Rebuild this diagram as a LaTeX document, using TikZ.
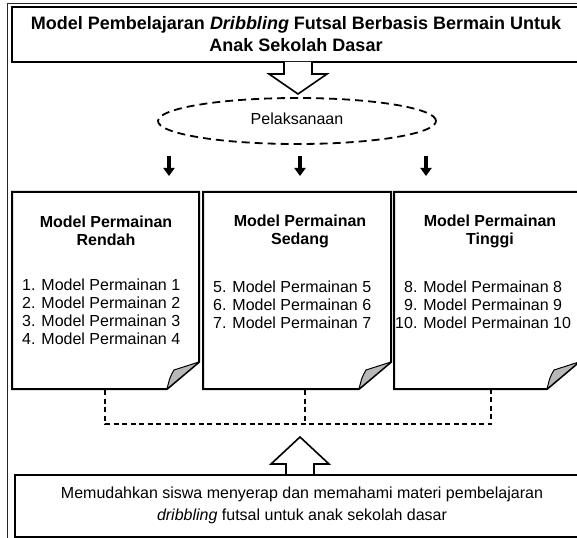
\documentclass[tikz,border=0pt]{standalone}
\usepackage{fontspec}
\setmainfont{Liberation Sans}
\usetikzlibrary{arrows.meta,shapes.geometric}
\newcommand\foldbox[4]{%
  \draw[boxline] (#1,#2) -- (#3,#2) -- (#3,{#4-27}) -- ({#3-32},#4) -- (#1,#4) -- cycle;
  \draw[flap] ({#3-32},#4) .. controls ({#3-29},{#4-12}) .. ({#3-25},{#4-19}) -- (#3,{#4-27}) -- cycle;
}
\begin{document}
\begin{tikzpicture}[x=1pt,y=-1pt,
  boxline/.style={line width=2pt, line join=miter, draw=black},
  flap/.style={fill=black!28, draw=black, line width=1pt, line join=round},
  hollow/.style={draw=black, line width=1.6pt, fill=white, line join=miter},
  smallarrow/.style={line width=4.5pt, black, -{Triangle[width=11pt,length=8pt]}},
  link/.style={line width=1.5pt, black, dash pattern=on 5pt off 3.5pt},
  txt/.style={font=\fontsize{16}{18}\selectfont, inner sep=0pt, text=black},
  bigtxt/.style={font=\fontsize{18}{22}\selectfont\bfseries, inner sep=0pt, text=black},
  headtxt/.style={font=\fontsize{16}{18}\selectfont\bfseries, inner sep=0pt, text=black, align=center}
]
\useasboundingbox (0,0) rectangle (577,537);
\clip (0,0) rectangle (577,537);
\fill[white] (0,0) rectangle (577,537);
% outer frame
\draw[line width=1pt, black!85] (7,4) rectangle (600,560);
% title box
\draw[boxline] (12,7) rectangle (600,62);
\node[bigtxt, align=center] (title) at (296,34) {Model Pembelajaran \textit{Dribbling} Futsal Berbasis Bermain Untuk\\Anak Sekolah Dasar};
% hollow arrow down
\draw[hollow] (284,62) -- (284,74) -- (269,74) -- (298,94) -- (327,74) -- (312,74) -- (312,62);
% ellipse
\node[ellipse, draw=black, line width=1.8pt, dash pattern=on 8pt off 5pt, minimum width=278pt, minimum height=46pt, inner sep=0pt] (pel) at (297,121) {};
\node[txt] (peltxt) at (297,119) {Pelaksanaan};
% small arrows
\coordinate (a1s) at (169,156); \coordinate (a1e) at (169,176);
\coordinate (a2s) at (300,156); \coordinate (a2e) at (300,176);
\coordinate (a3s) at (426,156); \coordinate (a3e) at (426,176);
\draw[smallarrow] (a1s) -- (a1e);
\draw[smallarrow] (a2s) -- (a2e);
\draw[smallarrow] (a3s) -- (a3e);
% three boxes
\foldbox{12}{192}{199}{389}
\foldbox{203}{192}{391}{389}
\foldbox{394}{192}{579}{389}
\node[headtxt] (h1) at (106,231) {Model Permainan\\Rendah};
\node[headtxt] (h2) at (300,231) {Model Permainan\\Sedang};
\node[headtxt] (h3) at (490,231) {Model Permainan\\Tinggi};
\node[txt, align=left, anchor=north west] (l1) at (22,279) {1. Model Permainan 1\\2. Model Permainan 2\\3. Model Permainan 3\\4. Model Permainan 4};
\node[txt, align=left, anchor=north west] (l2) at (213,281) {5. Model Permainan 5\\6. Model Permainan 6\\7. Model Permainan 7};
\node[txt, align=left, anchor=north west] (l3) at (395,281) {\hphantom{1}8. Model Permainan 8\\\hphantom{1}9. Model Permainan 9\\10. Model Permainan 10};
% dashed connectors
\coordinate (d1) at (105,390); \coordinate (d2) at (305,390); \coordinate (d3) at (491,390);
\coordinate (j1) at (105,424); \coordinate (j2) at (305,424); \coordinate (j3) at (491,424);
\draw[link] (d1) -- (j1) -- (j3) -- (d3);
\draw[link] (d2) -- (j2);
% hollow arrow up
\draw[hollow] (286,475) -- (286,464) -- (271,464) -- (300,437) -- (329,464) -- (314,464) -- (314,475);
% bottom box
\draw[boxline] (15,475) rectangle (600,537);
\node[txt, align=center, font=\fontsize{16}{22}\selectfont] (goal) at (302,505) {Memudahkan siswa menyerap dan memahami materi pembelajaran\\\textit{dribbling} futsal untuk anak sekolah dasar};
\end{tikzpicture}
\end{document}
